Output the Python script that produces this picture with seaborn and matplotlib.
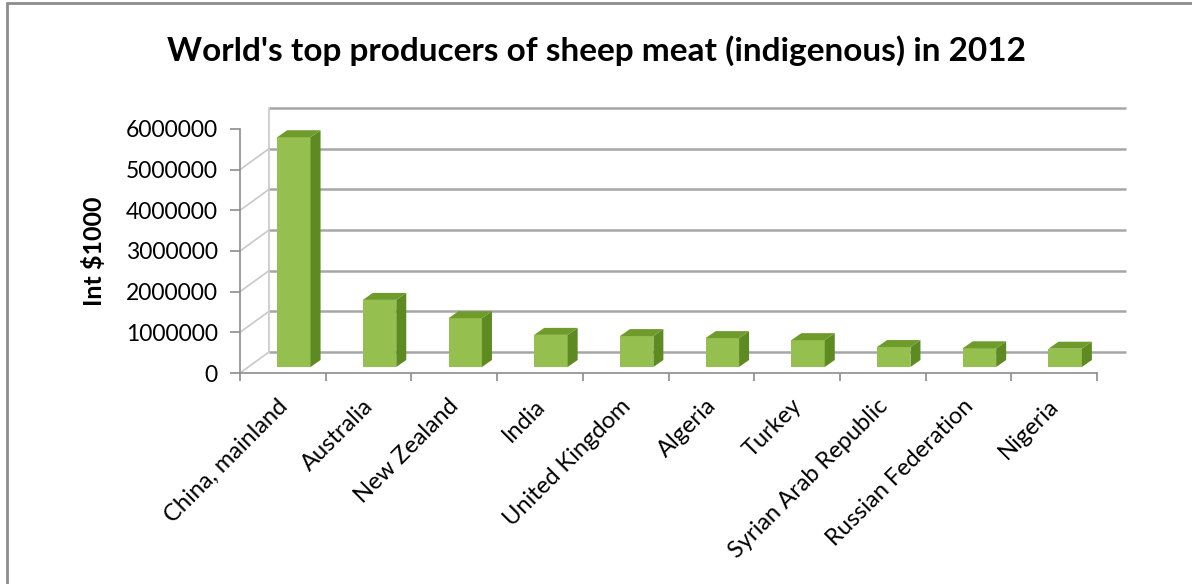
import numpy as np
import pandas as pd
import seaborn as sns
import matplotlib
matplotlib.use("Agg")
import matplotlib.pyplot as plt
from matplotlib.patches import Polygon, Rectangle
from matplotlib.transforms import ScaledTranslation, IdentityTransform

countries = ["China, mainland", "Australia", "New Zealand", "India", "United Kingdom",
             "Algeria", "Turkey", "Syrian Arab Republic", "Russian Federation", "Nigeria"]
values = [5650000, 1650000, 1200000, 790000, 760000, 710000, 660000, 490000, 460000, 450000]
yticks = [0, 1000000, 2000000, 3000000, 4000000, 5000000, 6000000]

sns.set_theme(style="white")
plt.rcParams["font.family"] = ["Lato", "DejaVu Sans"]
plt.rcParams["text.color"] = "black"
plt.rcParams["axes.labelcolor"] = "black"

DPI = 100
W, H = 1192, 584
fig = plt.figure(figsize=(W / DPI, H / DPI), dpi=DPI)

# axes box = front plane of the pseudo-3D plot (pixel geometry)
x0, x1 = 240, 1097
y_bot, y_top = 373, 129
ax = fig.add_axes([x0 / W, (H - y_bot) / H, (x1 - x0) / W, (y_bot - y_top) / H])
ax.patch.set_alpha(0)

df = pd.DataFrame({"country": countries, "value": values})
sns.barplot(data=df, x="country", y="value", color="#95c04f", width=0.39,
            saturation=1, ax=ax, zorder=5)
ax.set_xlim(-0.5, len(countries) - 0.5)
ax.set_ylim(0, 6000000)

# depth offsets in pixels
wall_dx, wall_dy = 29, 21
bar_shift_x, bar_shift_y = 11, 6
bar_dx, bar_dy = 10, 7

# back wall gridlines
wall_tr = ax.transData + ScaledTranslation(wall_dx / DPI, wall_dy / DPI, fig.dpi_scale_trans)
for v in yticks:
    ax.plot([-0.5, len(countries) - 0.5], [v, v], color="#a6a6a6", lw=1.8,
            transform=wall_tr, clip_on=False, zorder=1, solid_capstyle="butt")
    # diagonal on the left side wall
    p0 = ax.transData.transform((-0.5, v))
    ax.add_line(plt.Line2D([p0[0], p0[0] + wall_dx], [p0[1], p0[1] + wall_dy],
                           transform=IdentityTransform(), color="#c8c8c8", lw=1.2, zorder=1))
# back-left vertical edge
ax.plot([-0.5, -0.5], [0, 6000000], color="#c8c8c8", lw=1.2, transform=wall_tr,
        clip_on=False, zorder=1)
# floor right edge
pr = ax.transData.transform((len(countries) - 0.5, 0))
ax.add_line(plt.Line2D([pr[0], pr[0] + wall_dx], [pr[1], pr[1] + wall_dy],
                       transform=IdentityTransform(), color="#a6a6a6", lw=1.4, zorder=1))

# shift bars into the middle of the floor and add side/top faces
shift = ScaledTranslation(bar_shift_x / DPI, bar_shift_y / DPI, fig.dpi_scale_trans)
for p in list(ax.patches):
    if not isinstance(p, Rectangle):
        continue
    bx, by = p.get_x(), p.get_y()
    bw, bh = p.get_width(), p.get_height()
    p.set_transform(ax.transData + shift)
    p.set_edgecolor("none")
    (lx, ly) = ax.transData.transform((bx, by))
    (rx, ry) = ax.transData.transform((bx + bw, by + bh))
    lx += bar_shift_x; rx += bar_shift_x; ly += bar_shift_y; ry += bar_shift_y
    side = Polygon([(rx, ly), (rx + bar_dx, ly + bar_dy), (rx + bar_dx, ry + bar_dy), (rx, ry)],
                   closed=True, facecolor="#5e8a22", edgecolor="none",
                   transform=IdentityTransform(), zorder=6)
    top = Polygon([(lx, ry), (rx, ry), (rx + bar_dx, ry + bar_dy), (lx + bar_dx, ry + bar_dy)],
                  closed=True, facecolor="#6f9a2c", edgecolor="none",
                  transform=IdentityTransform(), zorder=6)
    ax.add_patch(side)
    ax.add_patch(top)

# spines and ticks
for s in ["top", "right"]:
    ax.spines[s].set_visible(False)
for s in ["left", "bottom"]:
    ax.spines[s].set_color("#8c8c8c")
    ax.spines[s].set_linewidth(1.2)

ax.set_yticks(yticks)
ax.set_yticklabels([str(v) for v in yticks], fontsize=16.5)
ax.tick_params(axis="y", left=True, length=7, width=1.2, color="#8c8c8c",
               labelcolor="black", pad=9)

ax.set_xticks(range(len(countries)))
ax.set_xticks(np.arange(-0.5, len(countries), 1.0), minor=True)
ax.tick_params(axis="x", which="major", bottom=False, length=0, pad=16, labelcolor="black")
ax.tick_params(axis="x", which="minor", bottom=True, length=6, width=1.2, color="#8c8c8c")
ax.set_xticklabels(countries, rotation=45, ha="right", rotation_mode="anchor", fontsize=17)
for lbl in ax.get_xticklabels():
    lbl.set_transform(lbl.get_transform() + ScaledTranslation(-6 / DPI, 0, fig.dpi_scale_trans))

ax.set_xlabel("")
ax.set_ylabel("Int $1000", fontsize=18, fontweight="bold", labelpad=14)

fig.text(596 / W, 1 - 51 / H, "World's top producers of sheep meat (indigenous) in 2012",
         ha="center", va="center", fontsize=24, fontweight="bold", color="black")

# chart frame
fig.add_artist(plt.Line2D([7 / W, 7 / W], [0, 1 - 3 / H], transform=fig.transFigure,
                          color="#8c8c8c", lw=2))
fig.add_artist(plt.Line2D([7 / W, 1], [1 - 3 / H, 1 - 3 / H], transform=fig.transFigure,
                          color="#8c8c8c", lw=2))

fig.savefig("out.png", dpi=DPI)
